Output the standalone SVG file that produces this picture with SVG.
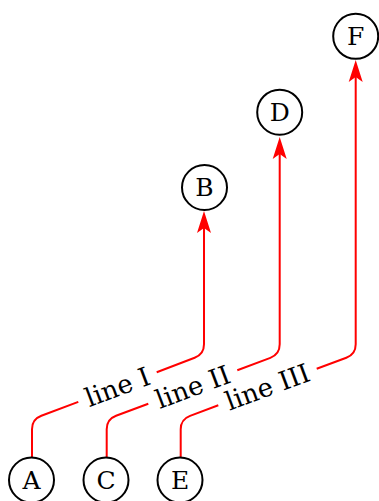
<svg xmlns="http://www.w3.org/2000/svg" width="379" height="501" viewBox="0 0 379 501">
<style>
.node circle{fill:#fff;stroke:#000;stroke-width:2}
.node text{font-family:"DejaVu Serif",serif;font-size:25px;fill:#000;text-anchor:middle;dominant-baseline:central}
.edge{fill:none;stroke:#ff0000;stroke-width:2}
.lbl{font-family:"DejaVu Serif",serif;font-size:26px;fill:#000;text-anchor:middle;dominant-baseline:central}
</style>
<defs>
<marker id="arr" viewBox="-6 -8 24 16" markerWidth="24" markerHeight="16" refX="0" refY="0" orient="auto" markerUnits="userSpaceOnUse">
<path d="M-5,-7 L17,0 L-5,7 L0,0 Z" fill="#ff0000"/>
</marker>
</defs>
<g id="connectors">
<path class="edge" d="M32,457 L32,429.3 Q32,419.3 41.35,415.8 L78.3,401.9"/>
<path class="edge" d="M156.7,372.3 L194.65,357.8 Q204,354.3 204,344.3 L204,228" marker-end="url(#arr)"/>
<text class="lbl" transform="translate(117.5,387) rotate(-20.6)">line I</text>
<path class="edge" d="M106.7,457 L106.7,429.3 Q106.7,419.3 116.06,415.78 L148.3,403.7"/>
<path class="edge" d="M237.3,370.2 L270.34,357.82 Q279.7,354.3 279.7,344.3 L279.7,154" marker-end="url(#arr)"/>
<text class="lbl" transform="translate(192.8,387) rotate(-20.6)">line II</text>
<path class="edge" d="M180.7,457 L180.7,429.3 Q180.7,419.3 190.07,415.82 L218.3,405.3"/>
<path class="edge" d="M316.7,368.8 L346.33,357.78 Q355.7,354.3 355.7,344.3 L355.7,77" marker-end="url(#arr)"/>
<text class="lbl" transform="translate(267.5,387) rotate(-20.4)">line III</text>
</g>
<g id="A" class="node"><circle cx="31.5" cy="480" r="22.5"/><text x="31.5" y="480">A</text></g>
<g id="C" class="node"><circle cx="106" cy="480" r="22.5"/><text x="106" y="480">C</text></g>
<g id="E" class="node"><circle cx="180" cy="480" r="22.5"/><text x="180" y="480">E</text></g>
<g id="B" class="node"><circle cx="204.5" cy="187.5" r="22.5"/><text x="204.5" y="187.5">B</text></g>
<g id="D" class="node"><circle cx="279.7" cy="112.2" r="22.5"/><text x="279.7" y="112.2">D</text></g>
<g id="F" class="node"><circle cx="355.7" cy="36.3" r="22.5"/><text x="355.7" y="36.3">F</text></g>
</svg>
